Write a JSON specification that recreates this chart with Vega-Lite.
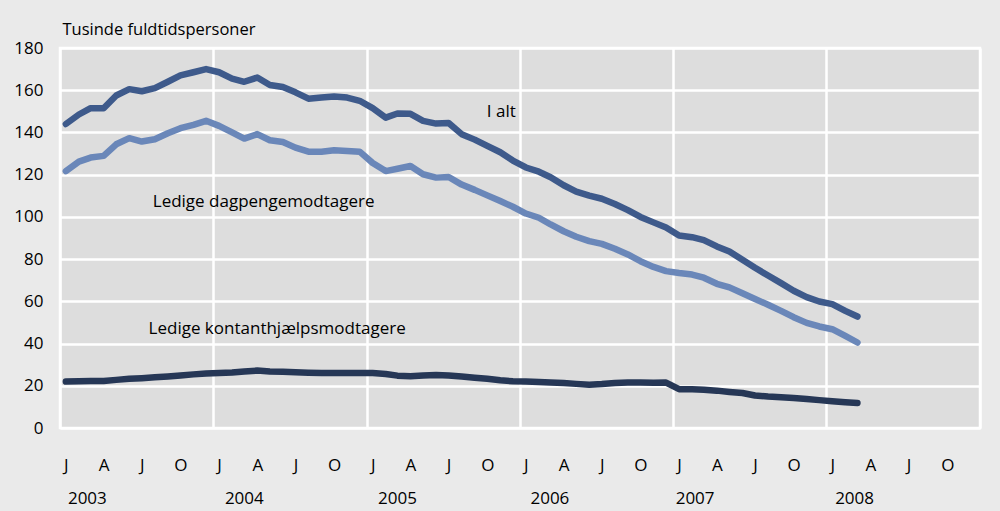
{
  "$schema": "https://vega.github.io/schema/vega-lite/v6.json",
  "width": 920,
  "height": 380,
  "autosize": "none",
  "padding": {"left": 60, "top": 48, "right": 20, "bottom": 83},
  "background": "#eaeaea",
  "config": {
    "view": {"fill": "#dddddd", "stroke": "#ffffff", "strokeWidth": 2.5},
    "font": "Open Sans",
    "axis": {"labelFont": "Open Sans", "titleFont": "Open Sans", "labelColor": "#000000", "titleColor": "#000000"}
  },
  "datasets": {
    "series": [
      {"month": "2003-01-15T00:00", "series": "I alt", "value": 144},
      {"month": "2003-02-15T00:00", "series": "I alt", "value": 148.5},
      {"month": "2003-03-15T00:00", "series": "I alt", "value": 151.5},
      {"month": "2003-04-15T00:00", "series": "I alt", "value": 151.5},
      {"month": "2003-05-15T00:00", "series": "I alt", "value": 157.5},
      {"month": "2003-06-15T00:00", "series": "I alt", "value": 160.5},
      {"month": "2003-07-15T00:00", "series": "I alt", "value": 159.5},
      {"month": "2003-08-15T00:00", "series": "I alt", "value": 161},
      {"month": "2003-09-15T00:00", "series": "I alt", "value": 164},
      {"month": "2003-10-15T00:00", "series": "I alt", "value": 167},
      {"month": "2003-11-15T00:00", "series": "I alt", "value": 168.5},
      {"month": "2003-12-15T00:00", "series": "I alt", "value": 170},
      {"month": "2004-01-15T00:00", "series": "I alt", "value": 168.5},
      {"month": "2004-02-15T00:00", "series": "I alt", "value": 165.5},
      {"month": "2004-03-15T00:00", "series": "I alt", "value": 164},
      {"month": "2004-04-15T00:00", "series": "I alt", "value": 166},
      {"month": "2004-05-15T00:00", "series": "I alt", "value": 162.5},
      {"month": "2004-06-15T00:00", "series": "I alt", "value": 161.5},
      {"month": "2004-07-15T00:00", "series": "I alt", "value": 159},
      {"month": "2004-08-15T00:00", "series": "I alt", "value": 156},
      {"month": "2004-09-15T00:00", "series": "I alt", "value": 156.5},
      {"month": "2004-10-15T00:00", "series": "I alt", "value": 157},
      {"month": "2004-11-15T00:00", "series": "I alt", "value": 156.5},
      {"month": "2004-12-15T00:00", "series": "I alt", "value": 155},
      {"month": "2005-01-15T00:00", "series": "I alt", "value": 151.5},
      {"month": "2005-02-15T00:00", "series": "I alt", "value": 147},
      {"month": "2005-03-15T00:00", "series": "I alt", "value": 149},
      {"month": "2005-04-15T00:00", "series": "I alt", "value": 148.8},
      {"month": "2005-05-15T00:00", "series": "I alt", "value": 145.5},
      {"month": "2005-06-15T00:00", "series": "I alt", "value": 144.2},
      {"month": "2005-07-15T00:00", "series": "I alt", "value": 144.5},
      {"month": "2005-08-15T00:00", "series": "I alt", "value": 139.2},
      {"month": "2005-09-15T00:00", "series": "I alt", "value": 136.6},
      {"month": "2005-10-15T00:00", "series": "I alt", "value": 133.6},
      {"month": "2005-11-15T00:00", "series": "I alt", "value": 130.6},
      {"month": "2005-12-15T00:00", "series": "I alt", "value": 126.7},
      {"month": "2006-01-15T00:00", "series": "I alt", "value": 123.4},
      {"month": "2006-02-15T00:00", "series": "I alt", "value": 121.4},
      {"month": "2006-03-15T00:00", "series": "I alt", "value": 118.8},
      {"month": "2006-04-15T00:00", "series": "I alt", "value": 115},
      {"month": "2006-05-15T00:00", "series": "I alt", "value": 112},
      {"month": "2006-06-15T00:00", "series": "I alt", "value": 110.1},
      {"month": "2006-07-15T00:00", "series": "I alt", "value": 108.6},
      {"month": "2006-08-15T00:00", "series": "I alt", "value": 106.1},
      {"month": "2006-09-15T00:00", "series": "I alt", "value": 103.2},
      {"month": "2006-10-15T00:00", "series": "I alt", "value": 100},
      {"month": "2006-11-15T00:00", "series": "I alt", "value": 97.4},
      {"month": "2006-12-15T00:00", "series": "I alt", "value": 95},
      {"month": "2007-01-15T00:00", "series": "I alt", "value": 91.2},
      {"month": "2007-02-15T00:00", "series": "I alt", "value": 90.4},
      {"month": "2007-03-15T00:00", "series": "I alt", "value": 89},
      {"month": "2007-04-15T00:00", "series": "I alt", "value": 86},
      {"month": "2007-05-15T00:00", "series": "I alt", "value": 83.6},
      {"month": "2007-06-15T00:00", "series": "I alt", "value": 79.7},
      {"month": "2007-07-15T00:00", "series": "I alt", "value": 75.9},
      {"month": "2007-08-15T00:00", "series": "I alt", "value": 72.2},
      {"month": "2007-09-15T00:00", "series": "I alt", "value": 68.6},
      {"month": "2007-10-15T00:00", "series": "I alt", "value": 65},
      {"month": "2007-11-15T00:00", "series": "I alt", "value": 62},
      {"month": "2007-12-15T00:00", "series": "I alt", "value": 59.9},
      {"month": "2008-01-15T00:00", "series": "I alt", "value": 58.7},
      {"month": "2008-02-15T00:00", "series": "I alt", "value": 55.5},
      {"month": "2008-03-15T00:00", "series": "I alt", "value": 52.8},

      {"month": "2003-01-15T00:00", "series": "Ledige dagpengemodtagere", "value": 121.7},
      {"month": "2003-02-15T00:00", "series": "Ledige dagpengemodtagere", "value": 126.2},
      {"month": "2003-03-15T00:00", "series": "Ledige dagpengemodtagere", "value": 128.1},
      {"month": "2003-04-15T00:00", "series": "Ledige dagpengemodtagere", "value": 128.9},
      {"month": "2003-05-15T00:00", "series": "Ledige dagpengemodtagere", "value": 134.4},
      {"month": "2003-06-15T00:00", "series": "Ledige dagpengemodtagere", "value": 137.3},
      {"month": "2003-07-15T00:00", "series": "Ledige dagpengemodtagere", "value": 135.7},
      {"month": "2003-08-15T00:00", "series": "Ledige dagpengemodtagere", "value": 136.8},
      {"month": "2003-09-15T00:00", "series": "Ledige dagpengemodtagere", "value": 139.6},
      {"month": "2003-10-15T00:00", "series": "Ledige dagpengemodtagere", "value": 142},
      {"month": "2003-11-15T00:00", "series": "Ledige dagpengemodtagere", "value": 143.6},
      {"month": "2003-12-15T00:00", "series": "Ledige dagpengemodtagere", "value": 145.5},
      {"month": "2004-01-15T00:00", "series": "Ledige dagpengemodtagere", "value": 143.1},
      {"month": "2004-02-15T00:00", "series": "Ledige dagpengemodtagere", "value": 140},
      {"month": "2004-03-15T00:00", "series": "Ledige dagpengemodtagere", "value": 137.1},
      {"month": "2004-04-15T00:00", "series": "Ledige dagpengemodtagere", "value": 139.2},
      {"month": "2004-05-15T00:00", "series": "Ledige dagpengemodtagere", "value": 136.3},
      {"month": "2004-06-15T00:00", "series": "Ledige dagpengemodtagere", "value": 135.5},
      {"month": "2004-07-15T00:00", "series": "Ledige dagpengemodtagere", "value": 132.8},
      {"month": "2004-08-15T00:00", "series": "Ledige dagpengemodtagere", "value": 130.9},
      {"month": "2004-09-15T00:00", "series": "Ledige dagpengemodtagere", "value": 130.9},
      {"month": "2004-10-15T00:00", "series": "Ledige dagpengemodtagere", "value": 131.6},
      {"month": "2004-11-15T00:00", "series": "Ledige dagpengemodtagere", "value": 131.2},
      {"month": "2004-12-15T00:00", "series": "Ledige dagpengemodtagere", "value": 130.9},
      {"month": "2005-01-15T00:00", "series": "Ledige dagpengemodtagere", "value": 125.5},
      {"month": "2005-02-15T00:00", "series": "Ledige dagpengemodtagere", "value": 121.7},
      {"month": "2005-03-15T00:00", "series": "Ledige dagpengemodtagere", "value": 122.8},
      {"month": "2005-04-15T00:00", "series": "Ledige dagpengemodtagere", "value": 124.1},
      {"month": "2005-05-15T00:00", "series": "Ledige dagpengemodtagere", "value": 120.2},
      {"month": "2005-06-15T00:00", "series": "Ledige dagpengemodtagere", "value": 118.6},
      {"month": "2005-07-15T00:00", "series": "Ledige dagpengemodtagere", "value": 118.9},
      {"month": "2005-08-15T00:00", "series": "Ledige dagpengemodtagere", "value": 115.3},
      {"month": "2005-09-15T00:00", "series": "Ledige dagpengemodtagere", "value": 112.8},
      {"month": "2005-10-15T00:00", "series": "Ledige dagpengemodtagere", "value": 110.2},
      {"month": "2005-11-15T00:00", "series": "Ledige dagpengemodtagere", "value": 107.5},
      {"month": "2005-12-15T00:00", "series": "Ledige dagpengemodtagere", "value": 104.8},
      {"month": "2006-01-15T00:00", "series": "Ledige dagpengemodtagere", "value": 101.6},
      {"month": "2006-02-15T00:00", "series": "Ledige dagpengemodtagere", "value": 99.6},
      {"month": "2006-03-15T00:00", "series": "Ledige dagpengemodtagere", "value": 96.4},
      {"month": "2006-04-15T00:00", "series": "Ledige dagpengemodtagere", "value": 93.2},
      {"month": "2006-05-15T00:00", "series": "Ledige dagpengemodtagere", "value": 90.6},
      {"month": "2006-06-15T00:00", "series": "Ledige dagpengemodtagere", "value": 88.5},
      {"month": "2006-07-15T00:00", "series": "Ledige dagpengemodtagere", "value": 87.2},
      {"month": "2006-08-15T00:00", "series": "Ledige dagpengemodtagere", "value": 84.9},
      {"month": "2006-09-15T00:00", "series": "Ledige dagpengemodtagere", "value": 82.2},
      {"month": "2006-10-15T00:00", "series": "Ledige dagpengemodtagere", "value": 79},
      {"month": "2006-11-15T00:00", "series": "Ledige dagpengemodtagere", "value": 76.3},
      {"month": "2006-12-15T00:00", "series": "Ledige dagpengemodtagere", "value": 74.3},
      {"month": "2007-01-15T00:00", "series": "Ledige dagpengemodtagere", "value": 73.4},
      {"month": "2007-02-15T00:00", "series": "Ledige dagpengemodtagere", "value": 72.7},
      {"month": "2007-03-15T00:00", "series": "Ledige dagpengemodtagere", "value": 71.2},
      {"month": "2007-04-15T00:00", "series": "Ledige dagpengemodtagere", "value": 68.3},
      {"month": "2007-05-15T00:00", "series": "Ledige dagpengemodtagere", "value": 66.6},
      {"month": "2007-06-15T00:00", "series": "Ledige dagpengemodtagere", "value": 63.8},
      {"month": "2007-07-15T00:00", "series": "Ledige dagpengemodtagere", "value": 61.1},
      {"month": "2007-08-15T00:00", "series": "Ledige dagpengemodtagere", "value": 58.4},
      {"month": "2007-09-15T00:00", "series": "Ledige dagpengemodtagere", "value": 55.5},
      {"month": "2007-10-15T00:00", "series": "Ledige dagpengemodtagere", "value": 52.5},
      {"month": "2007-11-15T00:00", "series": "Ledige dagpengemodtagere", "value": 49.8},
      {"month": "2007-12-15T00:00", "series": "Ledige dagpengemodtagere", "value": 48.1},
      {"month": "2008-01-15T00:00", "series": "Ledige dagpengemodtagere", "value": 46.8},
      {"month": "2008-02-15T00:00", "series": "Ledige dagpengemodtagere", "value": 43.6},
      {"month": "2008-03-15T00:00", "series": "Ledige dagpengemodtagere", "value": 40.5},

      {"month": "2003-01-15T00:00", "series": "Ledige kontanthjælpsmodtagere", "value": 22},
      {"month": "2003-02-15T00:00", "series": "Ledige kontanthjælpsmodtagere", "value": 22.2},
      {"month": "2003-03-15T00:00", "series": "Ledige kontanthjælpsmodtagere", "value": 22.3},
      {"month": "2003-04-15T00:00", "series": "Ledige kontanthjælpsmodtagere", "value": 22.3},
      {"month": "2003-05-15T00:00", "series": "Ledige kontanthjælpsmodtagere", "value": 22.8},
      {"month": "2003-06-15T00:00", "series": "Ledige kontanthjælpsmodtagere", "value": 23.3},
      {"month": "2003-07-15T00:00", "series": "Ledige kontanthjælpsmodtagere", "value": 23.6},
      {"month": "2003-08-15T00:00", "series": "Ledige kontanthjælpsmodtagere", "value": 24},
      {"month": "2003-09-15T00:00", "series": "Ledige kontanthjælpsmodtagere", "value": 24.4},
      {"month": "2003-10-15T00:00", "series": "Ledige kontanthjælpsmodtagere", "value": 24.9},
      {"month": "2003-11-15T00:00", "series": "Ledige kontanthjælpsmodtagere", "value": 25.4},
      {"month": "2003-12-15T00:00", "series": "Ledige kontanthjælpsmodtagere", "value": 25.8},
      {"month": "2004-01-15T00:00", "series": "Ledige kontanthjælpsmodtagere", "value": 26},
      {"month": "2004-02-15T00:00", "series": "Ledige kontanthjælpsmodtagere", "value": 26.3},
      {"month": "2004-03-15T00:00", "series": "Ledige kontanthjælpsmodtagere", "value": 26.8},
      {"month": "2004-04-15T00:00", "series": "Ledige kontanthjælpsmodtagere", "value": 27.2},
      {"month": "2004-05-15T00:00", "series": "Ledige kontanthjælpsmodtagere", "value": 26.8},
      {"month": "2004-06-15T00:00", "series": "Ledige kontanthjælpsmodtagere", "value": 26.6},
      {"month": "2004-07-15T00:00", "series": "Ledige kontanthjælpsmodtagere", "value": 26.4},
      {"month": "2004-08-15T00:00", "series": "Ledige kontanthjælpsmodtagere", "value": 26.2},
      {"month": "2004-09-15T00:00", "series": "Ledige kontanthjælpsmodtagere", "value": 26},
      {"month": "2004-10-15T00:00", "series": "Ledige kontanthjælpsmodtagere", "value": 26},
      {"month": "2004-11-15T00:00", "series": "Ledige kontanthjælpsmodtagere", "value": 26},
      {"month": "2004-12-15T00:00", "series": "Ledige kontanthjælpsmodtagere", "value": 26},
      {"month": "2005-01-15T00:00", "series": "Ledige kontanthjælpsmodtagere", "value": 26},
      {"month": "2005-02-15T00:00", "series": "Ledige kontanthjælpsmodtagere", "value": 25.6},
      {"month": "2005-03-15T00:00", "series": "Ledige kontanthjælpsmodtagere", "value": 24.8},
      {"month": "2005-04-15T00:00", "series": "Ledige kontanthjælpsmodtagere", "value": 24.5},
      {"month": "2005-05-15T00:00", "series": "Ledige kontanthjælpsmodtagere", "value": 24.9},
      {"month": "2005-06-15T00:00", "series": "Ledige kontanthjælpsmodtagere", "value": 25.1},
      {"month": "2005-07-15T00:00", "series": "Ledige kontanthjælpsmodtagere", "value": 24.9},
      {"month": "2005-08-15T00:00", "series": "Ledige kontanthjælpsmodtagere", "value": 24.4},
      {"month": "2005-09-15T00:00", "series": "Ledige kontanthjælpsmodtagere", "value": 23.8},
      {"month": "2005-10-15T00:00", "series": "Ledige kontanthjælpsmodtagere", "value": 23.3},
      {"month": "2005-11-15T00:00", "series": "Ledige kontanthjælpsmodtagere", "value": 22.6},
      {"month": "2005-12-15T00:00", "series": "Ledige kontanthjælpsmodtagere", "value": 22.1},
      {"month": "2006-01-15T00:00", "series": "Ledige kontanthjælpsmodtagere", "value": 22},
      {"month": "2006-02-15T00:00", "series": "Ledige kontanthjælpsmodtagere", "value": 21.8},
      {"month": "2006-03-15T00:00", "series": "Ledige kontanthjælpsmodtagere", "value": 21.6},
      {"month": "2006-04-15T00:00", "series": "Ledige kontanthjælpsmodtagere", "value": 21.3},
      {"month": "2006-05-15T00:00", "series": "Ledige kontanthjælpsmodtagere", "value": 20.9},
      {"month": "2006-06-15T00:00", "series": "Ledige kontanthjælpsmodtagere", "value": 20.5},
      {"month": "2006-07-15T00:00", "series": "Ledige kontanthjælpsmodtagere", "value": 20.8},
      {"month": "2006-08-15T00:00", "series": "Ledige kontanthjælpsmodtagere", "value": 21.3},
      {"month": "2006-09-15T00:00", "series": "Ledige kontanthjælpsmodtagere", "value": 21.5},
      {"month": "2006-10-15T00:00", "series": "Ledige kontanthjælpsmodtagere", "value": 21.5},
      {"month": "2006-11-15T00:00", "series": "Ledige kontanthjælpsmodtagere", "value": 21.4},
      {"month": "2006-12-15T00:00", "series": "Ledige kontanthjælpsmodtagere", "value": 21.5},
      {"month": "2007-01-15T00:00", "series": "Ledige kontanthjælpsmodtagere", "value": 18.4},
      {"month": "2007-02-15T00:00", "series": "Ledige kontanthjælpsmodtagere", "value": 18.3},
      {"month": "2007-03-15T00:00", "series": "Ledige kontanthjælpsmodtagere", "value": 18.1},
      {"month": "2007-04-15T00:00", "series": "Ledige kontanthjælpsmodtagere", "value": 17.7},
      {"month": "2007-05-15T00:00", "series": "Ledige kontanthjælpsmodtagere", "value": 17.1},
      {"month": "2007-06-15T00:00", "series": "Ledige kontanthjælpsmodtagere", "value": 16.6},
      {"month": "2007-07-15T00:00", "series": "Ledige kontanthjælpsmodtagere", "value": 15.4},
      {"month": "2007-08-15T00:00", "series": "Ledige kontanthjælpsmodtagere", "value": 14.9},
      {"month": "2007-09-15T00:00", "series": "Ledige kontanthjælpsmodtagere", "value": 14.6},
      {"month": "2007-10-15T00:00", "series": "Ledige kontanthjælpsmodtagere", "value": 14.2},
      {"month": "2007-11-15T00:00", "series": "Ledige kontanthjælpsmodtagere", "value": 13.7},
      {"month": "2007-12-15T00:00", "series": "Ledige kontanthjælpsmodtagere", "value": 13.2},
      {"month": "2008-01-15T00:00", "series": "Ledige kontanthjælpsmodtagere", "value": 12.7},
      {"month": "2008-02-15T00:00", "series": "Ledige kontanthjælpsmodtagere", "value": 12.2},
      {"month": "2008-03-15T00:00", "series": "Ledige kontanthjælpsmodtagere", "value": 11.8}
    ],
    "labels": [
      {"label": "I alt", "month": "2005-10-14T00:00", "value": 147.2},
      {"label": "Ledige dagpengemodtagere", "month": "2003-08-10T00:00", "value": 104.9},
      {"label": "Ledige kontanthjælpsmodtagere", "month": "2003-07-31T00:00", "value": 44.3}
    ]
  },
  "layer": [
    {
      "data": {"name": "series"},
      "mark": {"type": "line", "strokeWidth": 6.5, "strokeCap": "round", "strokeJoin": "round"},
      "encoding": {
        "x": {
          "field": "month", "type": "temporal",
          "scale": {"domain": [{"year": 2003, "month": 1, "date": 1}, {"year": 2009, "month": 1, "date": 1}]},
          "axis": {
            "orient": "bottom",
            "title": null, "labels": false, "ticks": false, "domain": false,
            "grid": true, "gridColor": "#ffffff", "gridWidth": 2.5, "gridOpacity": 1,
            "values": [
              {"year": 2003, "month": 1, "date": 1}, {"year": 2004, "month": 1, "date": 1},
              {"year": 2005, "month": 1, "date": 1}, {"year": 2006, "month": 1, "date": 1},
              {"year": 2007, "month": 1, "date": 1}, {"year": 2008, "month": 1, "date": 1},
              {"year": 2009, "month": 1, "date": 1}
            ]
          }
        },
        "y": {
          "field": "value", "type": "quantitative",
          "scale": {"domain": [0, 180], "nice": false},
          "axis": {
            "orient": "left",
            "values": [0, 20, 40, 60, 80, 100, 120, 140, 160, 180],
            "grid": true, "gridColor": "#ffffff", "gridWidth": 2.5, "gridOpacity": 1,
            "domain": false, "ticks": false, "tickSize": 0,
            "labelPadding": 17, "labelFontSize": 17,
            "title": "Tusinde fuldtidspersoner",
            "titleAngle": 0, "titleAlign": "left", "titleBaseline": "alphabetic",
            "titleX": 2, "titleY": -14, "titleFontSize": 16.5, "titleFontWeight": "normal"
          }
        },
        "color": {
          "field": "series", "type": "nominal",
          "scale": {
            "domain": ["I alt", "Ledige dagpengemodtagere", "Ledige kontanthjælpsmodtagere"],
            "range": ["#3e5a8b", "#6a87b9", "#263756"]
          },
          "legend": null
        }
      }
    },
    {
      "data": {"name": "series"},
      "mark": {"type": "point", "opacity": 0},
      "encoding": {
        "x": {
          "field": "month", "type": "temporal",
          "axis": {
            "orient": "bottom",
            "title": null, "grid": false, "ticks": false, "tickSize": 0, "domain": false,
            "labelPadding": 42.5, "labelBaseline": "alphabetic", "labelFontSize": 17,
            "labelFlush": false, "labelOverlap": false,
            "labelExpr": "month(datum.value) == 0 ? 'J' : month(datum.value) == 3 ? 'A' : month(datum.value) == 6 ? 'J' : 'O'",
            "values": [
              {"year": 2003, "month": 1, "date": 15}, {"year": 2003, "month": 4, "date": 15}, {"year": 2003, "month": 7, "date": 15}, {"year": 2003, "month": 10, "date": 15},
              {"year": 2004, "month": 1, "date": 15}, {"year": 2004, "month": 4, "date": 15}, {"year": 2004, "month": 7, "date": 15}, {"year": 2004, "month": 10, "date": 15},
              {"year": 2005, "month": 1, "date": 15}, {"year": 2005, "month": 4, "date": 15}, {"year": 2005, "month": 7, "date": 15}, {"year": 2005, "month": 10, "date": 15},
              {"year": 2006, "month": 1, "date": 15}, {"year": 2006, "month": 4, "date": 15}, {"year": 2006, "month": 7, "date": 15}, {"year": 2006, "month": 10, "date": 15},
              {"year": 2007, "month": 1, "date": 15}, {"year": 2007, "month": 4, "date": 15}, {"year": 2007, "month": 7, "date": 15}, {"year": 2007, "month": 10, "date": 15},
              {"year": 2008, "month": 1, "date": 15}, {"year": 2008, "month": 4, "date": 15}, {"year": 2008, "month": 7, "date": 15}, {"year": 2008, "month": 10, "date": 15}
            ]
          }
        },
        "y": {"field": "value", "type": "quantitative", "axis": null}
      }
    },
    {
      "data": {"name": "series"},
      "mark": {"type": "point", "opacity": 0},
      "encoding": {
        "x": {
          "field": "month", "type": "temporal",
          "axis": {
            "orient": "bottom",
            "title": null, "grid": false, "ticks": false, "tickSize": 0, "domain": false,
            "labelPadding": 75, "labelBaseline": "alphabetic", "labelFontSize": 17,
            "labelFlush": false, "labelOverlap": false, "format": "%Y",
            "values": [
              {"year": 2003, "month": 3, "date": 6}, {"year": 2004, "month": 3, "date": 14},
              {"year": 2005, "month": 3, "date": 14}, {"year": 2006, "month": 3, "date": 12},
              {"year": 2007, "month": 2, "date": 21}, {"year": 2008, "month": 3, "date": 7}
            ]
          }
        },
        "y": {"field": "value", "type": "quantitative", "axis": null}
      }
    },
    {
      "data": {"name": "labels"},
      "mark": {"type": "text", "align": "left", "baseline": "alphabetic", "fontSize": 17, "color": "#000000", "font": "Open Sans"},
      "encoding": {
        "x": {"field": "month", "type": "temporal", "axis": null},
        "y": {"field": "value", "type": "quantitative", "axis": null},
        "text": {"field": "label"}
      }
    }
  ],
  "resolve": {"axis": {"x": "independent", "y": "independent"}}
}
